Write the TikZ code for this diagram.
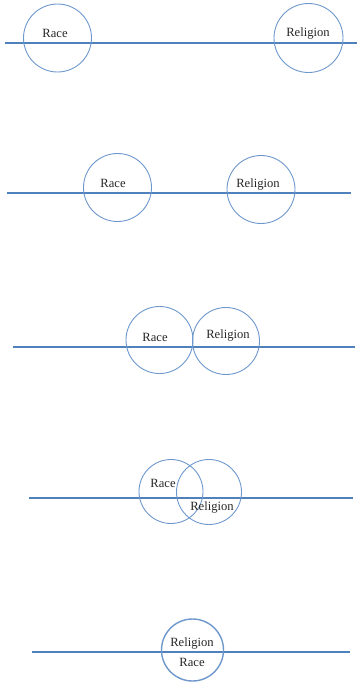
\documentclass[tikz,border=0pt]{standalone}
\usepackage{fontspec}
\setmainfont{Liberation Serif}
\begin{document}
\begin{tikzpicture}[x=1pt,y=-1pt,
  axis/.style={draw=axisblue,line width=2.2pt},
  ring/.style={circle,draw=ringblue,line width=0.9pt,inner sep=0pt,minimum size=#1},
  ring/.default=68pt,
  word/.style={font=\fontsize{12.6}{14}\selectfont,inner sep=0pt,text=black!85}]
\definecolor{axisblue}{HTML}{4F81BD}
\definecolor{ringblue}{HTML}{6E98CC}
\useasboundingbox (0,0) rectangle (358,686);

% stage 1: far apart
\coordinate (a1) at (5,43);
\coordinate (b1) at (357,43);
\draw[axis] (a1) -- (b1);
\node[ring=68pt] (race1) at (57.5,38) {};
\node[ring=69pt] (rel1) at (308.5,38) {};
\node[word] (trace1) at (55,33) {Race};
\node[word] (trel1) at (308,33) {Religion};

% stage 2: closer
\coordinate (a2) at (7,193);
\coordinate (b2) at (351,193);
\draw[axis] (a2) -- (b2);
\node[ring=68pt] (race2) at (117.5,187.5) {};
\node[ring=68pt] (rel2) at (261,189.5) {};
\node[word] (trace2) at (113,183) {Race};
\node[word] (trel2) at (258,184) {Religion};

% stage 3: touching
\coordinate (a3) at (13,347);
\coordinate (b3) at (355,347);
\draw[axis] (a3) -- (b3);
\node[ring=67pt] (race3) at (159.5,340) {};
\node[ring=67pt] (rel3) at (226,341) {};
\node[word] (trace3) at (155,337) {Race};
\node[word] (trel3) at (228,335) {Religion};

% stage 4: overlapping
\coordinate (a4) at (29,498);
\coordinate (b4) at (353,498);
\draw[axis] (a4) -- (b4);
\node[ring=64pt] (race4) at (171,491.5) {};
\node[ring=65pt] (rel4) at (209,492) {};
\node[word] (trace4) at (163,483) {Race};
\node[word] (trel4) at (212,507) {Religion};

% stage 5: merged
\coordinate (a5) at (32,652);
\coordinate (b5) at (350,652);
\draw[axis] (a5) -- (b5);
\node[ring=62pt,line width=1.4pt] (both5) at (192.5,650) {};
\node[word] (trel5) at (192,643) {Religion};
\node[word] (trace5) at (192,662) {Race};
\end{tikzpicture}
\end{document}
